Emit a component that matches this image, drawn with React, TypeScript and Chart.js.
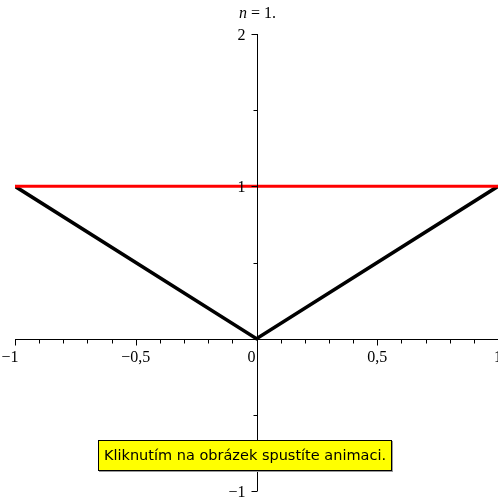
import React, { useEffect, useRef } from "react";
import { Chart, registerables } from "chart.js";

Chart.register(...registerables);

const vLineX = [-1, 0, 1];
const vLineY = [1, 0, 1];
const redLineX = [-1, 1];
const redLineY = [1, 1];

const xMajorTicks = [-1, -0.5, 0, 0.5, 1];
const xTickLabels = ["\u22121", "\u22120,5", "0", "0,5", "1"];
const xMinorTicks = [-0.9, -0.8, -0.7, -0.6, -0.4, -0.3, -0.2, -0.1, 0.1, 0.2, 0.3, 0.4, 0.6, 0.7, 0.8, 0.9];
const yMajorTicks = [2, 1, -1];
const yTickLabels = ["2", "1", "\u22121"];
const yMinorTicks = [1.5, 0.5, -0.5];

const titleItalic = "n";
const titleRest = " = 1.";
const noteText = "Kliknutím na obrázek spustíte animaci.";

const axesPlugin = {
  id: "originAxes",
  afterDatasetsDraw(chart: any) {
    const ctx = chart.ctx;
    const xs = chart.scales.x;
    const ys = chart.scales.y;
    const x0 = Math.round(xs.getPixelForValue(0)) + 0.5;
    const y0 = Math.round(ys.getPixelForValue(0)) + 0.5;
    ctx.save();
    ctx.strokeStyle = "#000";
    ctx.lineWidth = 1;
    ctx.beginPath();
    ctx.moveTo(xs.getPixelForValue(-1), y0);
    ctx.lineTo(xs.getPixelForValue(1), y0);
    ctx.moveTo(x0, ys.getPixelForValue(2));
    ctx.lineTo(x0, ys.getPixelForValue(-1));
    xMajorTicks.forEach((v) => {
      const px = Math.round(xs.getPixelForValue(v)) + 0.5;
      ctx.moveTo(px, y0);
      ctx.lineTo(px, y0 + 6);
    });
    xMinorTicks.forEach((v) => {
      const px = Math.round(xs.getPixelForValue(v)) + 0.5;
      ctx.moveTo(px, y0);
      ctx.lineTo(px, y0 + 4);
    });
    yMajorTicks.forEach((v) => {
      const py = Math.round(ys.getPixelForValue(v)) + 0.5;
      ctx.moveTo(x0, py);
      ctx.lineTo(x0 - 6, py);
    });
    yMinorTicks.forEach((v) => {
      const py = Math.round(ys.getPixelForValue(v)) + 0.5;
      ctx.moveTo(x0, py);
      ctx.lineTo(x0 - 4, py);
    });
    ctx.stroke();

    ctx.fillStyle = "#000";
    ctx.font = "16px 'Liberation Serif'";
    ctx.textBaseline = "alphabetic";
    xMajorTicks.forEach((v, i) => {
      let px = xs.getPixelForValue(v);
      ctx.textAlign = "center";
      if (v === 0) px -= 5;
      if (v === -1) px -= 5;
      ctx.fillText(xTickLabels[i], px, y0 + 22);
    });
    ctx.textAlign = "right";
    yMajorTicks.forEach((v, i) => {
      const py = ys.getPixelForValue(v);
      ctx.fillText(yTickLabels[i], x0 - 12, py + 6);
    });

    const tx = x0;
    ctx.font = "italic 16px 'Liberation Serif'";
    const wI = ctx.measureText(titleItalic).width;
    ctx.font = "16px 'Liberation Serif'";
    const wR = ctx.measureText(titleRest).width;
    const start = tx - (wI + wR) / 2;
    ctx.textAlign = "left";
    ctx.font = "italic 16px 'Liberation Serif'";
    ctx.fillText(titleItalic, start, 18);
    ctx.font = "16px 'Liberation Serif'";
    ctx.fillText(titleRest, start + wI, 18);
    ctx.restore();
  },
};

export default function App() {
  const ref = useRef<HTMLCanvasElement | null>(null);
  useEffect(() => {
    if (!ref.current) return;
    const chart = new Chart(ref.current, {
      type: "scatter",
      data: {
        datasets: [
          {
            label: "red",
            data: redLineX.map((x, i) => ({ x, y: redLineY[i] })),
            showLine: true,
            borderColor: "#ff0000",
            borderWidth: 3,
            pointRadius: 0,
            fill: false,
          },
          {
            label: "abs",
            data: vLineX.map((x, i) => ({ x, y: vLineY[i] })),
            showLine: true,
            borderColor: "#000000",
            borderWidth: 3.5,
            pointRadius: 0,
            fill: false,
          },
        ],
      },
      options: {
        responsive: false,
        animation: false,
        layout: { padding: { left: 15, right: 0, top: 34, bottom: 6 } },
        plugins: { legend: { display: false }, tooltip: { enabled: false }, title: { display: false } },
        scales: {
          x: { type: "linear", min: -1, max: 1, display: false },
          y: { type: "linear", min: -1, max: 2, display: false },
        },
      },
      plugins: [axesPlugin],
    });
    return () => chart.destroy();
  }, []);
  return (
    <div style={{ position: "absolute", left: 0, top: 0, width: 498, height: 497, background: "#fff" }}>
      <canvas ref={ref} width={498} height={497} style={{ display: "block" }} />
      <div
        style={{
          position: "absolute",
          left: 98,
          top: 440,
          width: 292,
          height: 29,
          background: "#ffff00",
          border: "1px solid #000",
          boxShadow: "1px 1px 0 #999",
          fontFamily: "'DejaVu Sans', sans-serif",
          fontSize: 14.5,
          lineHeight: "29px",
          textAlign: "center",
          color: "#000",
          whiteSpace: "nowrap",
        }}
      >
        {noteText}
      </div>
    </div>
  );
}
